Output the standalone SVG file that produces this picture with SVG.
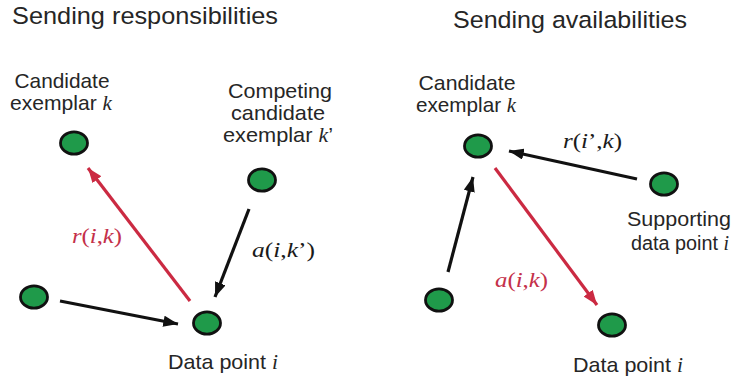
<svg xmlns="http://www.w3.org/2000/svg" width="733" height="381" viewBox="0 0 733 381">
  <defs>
    <marker id="head-black" viewBox="0 0 10 10" refX="10" refY="5" markerWidth="4.6" markerHeight="3.5" markerUnits="strokeWidth" orient="auto" preserveAspectRatio="none">
      <path d="M0,0 L10,5 L0,10 Z" fill="#111"/>
    </marker>
    <marker id="head-red" viewBox="0 0 10 10" refX="10" refY="5" markerWidth="4.6" markerHeight="3.5" markerUnits="strokeWidth" orient="auto" preserveAspectRatio="none">
      <path d="M0,0 L10,5 L0,10 Z" fill="#cb2a42"/>
    </marker>
  </defs>
  <style>
    .title { font-family: "Liberation Sans", Arial, sans-serif; font-size: 24.5px; fill: #262626; }
    .label { font-family: "Liberation Sans", Arial, sans-serif; font-size: 21px; fill: #262626; text-anchor: middle; }
    .label.tight { font-size: 20px; }
    .var { font-family: "Liberation Serif", "Times New Roman", serif; font-style: italic; }
    .math { font-family: "Liberation Serif", "Times New Roman", serif; font-size: 22px; }
    .math .it { font-style: italic; }
    .math-black { fill: #1a1a1a; }
    .math-red { fill: #c4304a; }
    .node { fill: #1f9a4a; stroke: #111; stroke-width: 2.8; }
    .edge { fill: none; stroke-width: 3.2; }
    .edge-black { stroke: #111; marker-end: url(#head-black); }
    .edge-red { stroke: #cb2a42; marker-end: url(#head-red); }
  </style>
  <rect width="733" height="381" fill="#ffffff"/>

  <!-- panel titles -->
  <text class="title" x="12" y="24" textLength="266" lengthAdjust="spacingAndGlyphs">Sending responsibilities</text>
  <text class="title" x="453" y="28" textLength="234" lengthAdjust="spacingAndGlyphs">Sending availabilities</text>

  <!-- connectors -->
  <g id="connectors">
    <line class="edge edge-red" x1="190" y1="301" x2="88" y2="168"/>
    <line class="edge edge-black" x1="249" y1="209" x2="215" y2="297"/>
    <line class="edge edge-black" x1="60" y1="301" x2="178" y2="324"/>
    <line class="edge edge-black" x1="637" y1="179" x2="509" y2="151"/>
    <line class="edge edge-black" x1="448" y1="272" x2="473" y2="177"/>
    <line class="edge edge-red" x1="495" y1="168" x2="597" y2="305"/>
    <text class="math math-red" x="72" y="243" textLength="50" lengthAdjust="spacingAndGlyphs"><tspan class="it">r</tspan>(<tspan class="it">i</tspan>,<tspan class="it">k</tspan>)</text>
    <text class="math math-black" x="252" y="257" textLength="63" lengthAdjust="spacingAndGlyphs"><tspan class="it">a</tspan>(<tspan class="it">i</tspan>,<tspan class="it">k</tspan>’)</text>
    <text class="math math-black" x="563" y="148" textLength="59" lengthAdjust="spacingAndGlyphs"><tspan class="it">r</tspan>(<tspan class="it">i</tspan>’,<tspan class="it">k</tspan>)</text>
    <text class="math math-red" x="495" y="287" textLength="53" lengthAdjust="spacingAndGlyphs"><tspan class="it">a</tspan>(<tspan class="it">i</tspan>,<tspan class="it">k</tspan>)</text>
  </g>

  <!-- left panel: sending responsibilities -->
  <g id="candidate-left">
    <ellipse class="node" cx="74" cy="143" rx="13.5" ry="11.2"/>
    <text class="label" x="62" y="88" textLength="95" lengthAdjust="spacingAndGlyphs">Candidate</text>
    <text class="label" x="61" y="110" textLength="102" lengthAdjust="spacingAndGlyphs">exemplar <tspan class="var">k</tspan></text>
  </g>
  <g id="competing">
    <ellipse class="node" cx="262" cy="180" rx="13.5" ry="11.2"/>
    <text class="label" x="280" y="98" textLength="104" lengthAdjust="spacingAndGlyphs">Competing</text>
    <text class="label" x="278" y="120" textLength="94" lengthAdjust="spacingAndGlyphs">candidate</text>
    <text class="label" x="278" y="142" textLength="110" lengthAdjust="spacingAndGlyphs">exemplar <tspan class="var">k</tspan>’</text>
  </g>
  <g id="other-left">
    <ellipse class="node" cx="34" cy="297" rx="13.5" ry="11.2"/>
  </g>
  <g id="data-left">
    <ellipse class="node" cx="207" cy="323" rx="13.5" ry="11.2"/>
    <text class="label" x="223" y="369" textLength="110" lengthAdjust="spacingAndGlyphs">Data point <tspan class="var">i</tspan></text>
  </g>

  <!-- right panel: sending availabilities -->
  <g id="candidate-right">
    <ellipse class="node" cx="478" cy="146" rx="13.5" ry="11.2"/>
    <text class="label" x="467" y="90" textLength="97" lengthAdjust="spacingAndGlyphs">Candidate</text>
    <text class="label" x="466" y="112" textLength="100" lengthAdjust="spacingAndGlyphs">exemplar <tspan class="var">k</tspan></text>
  </g>
  <g id="supporting">
    <ellipse class="node" cx="664" cy="184" rx="13.5" ry="11.2"/>
    <text class="label tight" x="679" y="226" textLength="104" lengthAdjust="spacingAndGlyphs">Supporting</text>
    <text class="label tight" x="680" y="250" textLength="98" lengthAdjust="spacingAndGlyphs">data point <tspan class="var">i</tspan></text>
  </g>
  <g id="other-right">
    <ellipse class="node" cx="439" cy="300" rx="13.5" ry="11.2"/>
  </g>
  <g id="data-right">
    <ellipse class="node" cx="612" cy="325" rx="13.5" ry="11.2"/>
    <text class="label" x="628" y="372" textLength="110" lengthAdjust="spacingAndGlyphs">Data point <tspan class="var">i</tspan></text>
  </g>
</svg>
